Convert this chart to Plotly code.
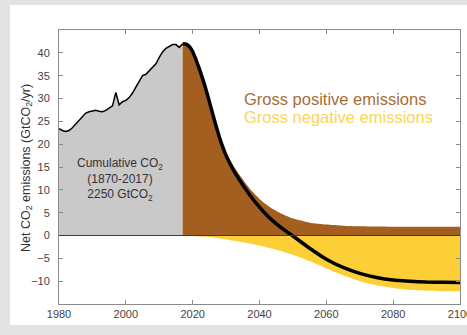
import plotly.graph_objects as go

# Historical net CO2 emissions (GtCO2/yr)
hist_years = list(range(1980, 2018))
hist_net = [23.4, 23.0, 22.8, 23.0, 23.6, 24.4, 25.2, 26.0, 26.8, 27.1,
            27.2, 27.4, 27.2, 27.1, 27.4, 27.9, 28.4, 31.3, 28.6, 29.3,
            29.6, 30.2, 31.2, 32.5, 33.8, 35.0, 35.3, 36.0, 36.9, 37.6,
            39.0, 40.2, 41.0, 41.4, 41.8, 41.8, 41.2, 42.0]

# Stylised pathway
fut_years = [2017, 2018, 2019, 2020, 2021, 2022, 2023, 2024, 2025, 2026,
             2027, 2028, 2029, 2030, 2032, 2034, 2036, 2038, 2040, 2042,
             2044, 2046, 2048, 2050, 2055, 2060, 2065, 2070, 2075, 2080,
             2085, 2090, 2095, 2100]
net = [42.0, 41.9, 41.4, 40.3, 38.5, 36.5, 34.3, 31.9, 29.3, 26.6,
       24.0, 21.5, 19.4, 17.5, 14.6, 12.2, 10.0, 8.0, 6.2, 4.6,
       3.2, 2.0, 0.9, -0.1, -2.8, -5.2, -7.0, -8.3, -9.2, -9.75,
       -10.0, -10.2, -10.25, -10.3]
gross_neg = [0.0, 0.0, -0.05, -0.1, -0.15, -0.2, -0.25, -0.3, -0.4, -0.45,
             -0.55, -0.65, -0.75, -0.85, -1.1, -1.35, -1.6, -1.9, -2.2, -2.55,
             -2.9, -3.3, -3.75, -4.2, -5.6, -7.2, -8.7, -10.0, -10.9, -11.5,
             -11.9, -12.1, -12.2, -12.2]
gross_pos = [42.0, 41.9, 41.45, 40.4, 38.65, 36.7, 34.55, 32.2, 29.7, 27.05,
             24.5, 22.1, 20.05, 18.2, 15.5, 13.3, 11.3, 9.5, 8.0, 6.8,
             5.8, 5.0, 4.3, 3.7, 2.8, 2.4, 2.15, 2.0, 1.95, 1.9,
             1.9, 1.9, 1.9, 1.9]

x_ticks = [1980, 2000, 2020, 2040, 2060, 2080, 2100]
y_ticks = [-10, -5, 0, 5, 10, 15, 20, 25, 30, 35, 40]

FONT = "Liberation Sans, Arial, Helvetica, sans-serif"
GRAY = "#c9c9c9"
BROWN = "#a25f1f"
YELLOW = "#fdcf36"

fig = go.Figure()
fig.add_trace(go.Scatter(x=hist_years, y=hist_net, mode="lines", fill="tozeroy",
                         fillcolor=GRAY, line=dict(color="black", width=1.5),
                         hoverinfo="skip", showlegend=False))
fig.add_trace(go.Scatter(x=fut_years, y=gross_pos, mode="lines", fill="tozeroy",
                         fillcolor=BROWN, line=dict(color=BROWN, width=0, shape="spline", smoothing=0.4),
                         hoverinfo="skip", showlegend=False))
fig.add_trace(go.Scatter(x=fut_years, y=gross_neg, mode="lines", fill="tozeroy",
                         fillcolor=YELLOW, line=dict(color=YELLOW, width=0, shape="spline", smoothing=0.4),
                         hoverinfo="skip", showlegend=False))
fig.add_trace(go.Scatter(x=fut_years, y=net, mode="lines",
                         line=dict(color="black", width=3.5, shape="spline", smoothing=0.4),
                         hoverinfo="skip", showlegend=False))

axis_common = dict(showline=True, linecolor="#8a8a8a", linewidth=1, mirror="ticks",
                   ticks="inside", ticklen=4, tickcolor="#8a8a8a", showgrid=False,
                   zeroline=False, automargin=False, ticklabeloverflow="allow",
                   tickfont=dict(family=FONT, size=11, color="#444444"))
fig.update_xaxes(range=[1980, 2100], tickvals=x_ticks, **axis_common)
fig.update_yaxes(range=[-15, 45], tickvals=y_ticks, ticklabelstandoff=6, **axis_common)

fig.add_shape(type="rect", xref="paper", yref="paper", x0=-0.1222, x1=1.05, y0=-0.0766, y1=1.0912,
              fillcolor="white", line=dict(width=0), layer="below")
fig.add_shape(type="line", xref="paper", yref="y", x0=0, x1=1, y0=0, y1=0,
              line=dict(color="#3a3a3a", width=1), layer="above")

anns = [
    dict(x=2034.9, y=29.8, text="Gross positive emissions", color="#a66c38", size=16.5, xanchor="left"),
    dict(x=2034.9, y=25.9, text="Gross negative emissions", color="#fbd45a", size=16.5, xanchor="left"),
    dict(x=1998.3, y=12.2, text="Cumulative CO<sub>2</sub><br>(1870-2017)<br>2250 GtCO<sub>2</sub>",
         color="#333333", size=12, xanchor="center"),
]
for a in anns:
    fig.add_annotation(x=a["x"], y=a["y"], xref="x", yref="y", text=a["text"], showarrow=False,
                       xanchor=a["xanchor"], yanchor="middle",
                       font=dict(family=FONT, size=a["size"], color=a["color"]))

fig.add_annotation(xref="paper", yref="paper", x=-0.08, y=0.496, textangle=-90,
                   text="Net CO<sub>2</sub> emissions (GtCO<sub>2</sub>/yr)", showarrow=False,
                   xanchor="center", yanchor="middle",
                   font=dict(family=FONT, size=12.5, color="#333333"))

fig.update_layout(width=467, height=335, margin=dict(l=59, r=7, t=30, b=31, autoexpand=False),
                  paper_bgcolor="#e3e3e3", plot_bgcolor="white",
                  font=dict(family=FONT), showlegend=False)

fig.write_html("out.html", config={"displayModeBar": False},
               post_script="document.body.style.margin='0';document.body.style.overflow='hidden';")
